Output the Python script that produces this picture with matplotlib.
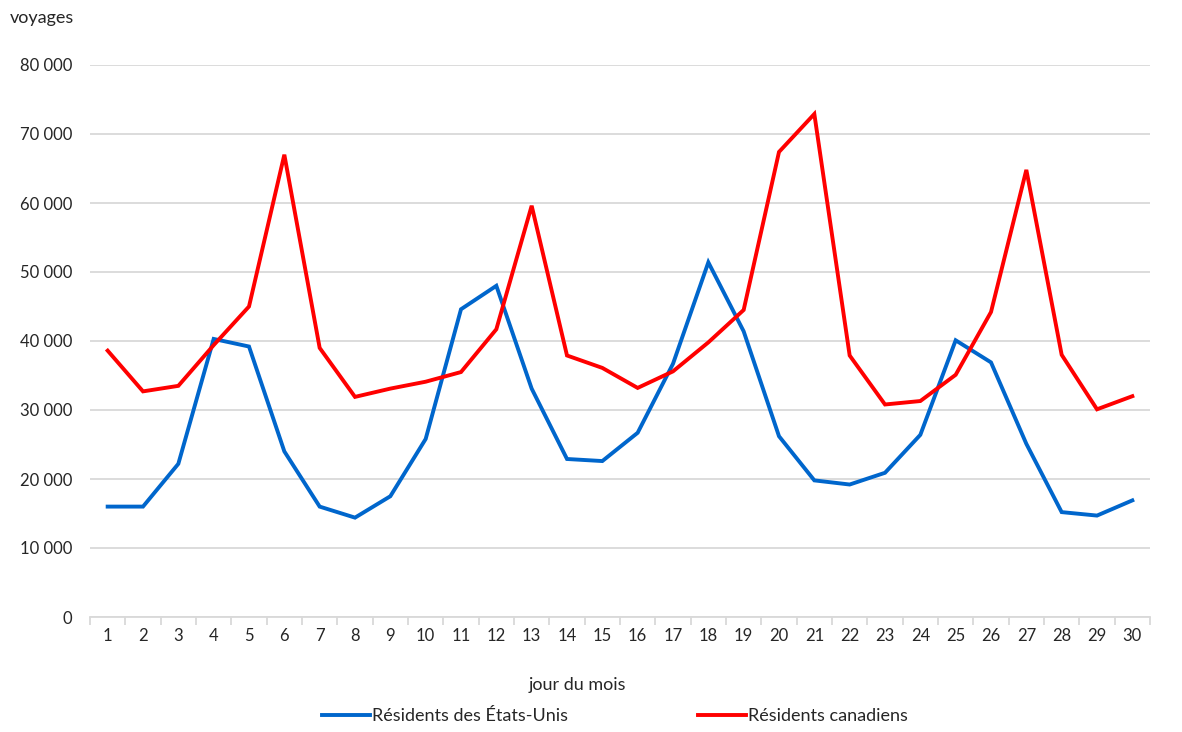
import matplotlib.pyplot as plt
from matplotlib.ticker import FuncFormatter, FixedLocator

plt.rcParams['font.family'] = ['Lato', 'DejaVu Sans']

days = list(range(1, 31))
us_residents = [16000, 16000, 22200, 40300, 39200, 24000, 16000, 14400, 17500, 25800,
                44600, 48000, 33100, 22900, 22600, 26700, 36700, 51400, 41400, 26200,
                19800, 19200, 20900, 26400, 40100, 36900, 25100, 15200, 14700, 16900]
cdn_residents = [38600, 32700, 33500, 39400, 45000, 67000, 39000, 31900, 33100, 34100,
                 35500, 41700, 59600, 37900, 36100, 33200, 35600, 39800, 44500, 67400,
                 72900, 37900, 30800, 31300, 35100, 44200, 64800, 38000, 30100, 32000]
labels = ['Résidents des États-Unis', 'Résidents canadiens']

fig = plt.figure(figsize=(11.82, 7.32), dpi=100)
ax = fig.add_axes([90 / 1182, 1 - 617 / 732, 1060 / 1182, 552 / 732])

ax.plot(days, us_residents, color='#0066CC', lw=2.8, label=labels[0], solid_joinstyle='miter')
ax.plot(days, cdn_residents, color='#FF0000', lw=2.8, label=labels[1], solid_joinstyle='miter')

ax.set_xlim(0.5, 30.5)
ax.set_ylim(0, 80000)
ax.set_yticks(range(0, 80001, 10000))
ax.yaxis.set_major_formatter(FuncFormatter(lambda v, p: f'{int(v):,}'.replace(',', ' ')))
ax.set_xticks(days)
ax.set_xticklabels([str(d) for d in days])
ax.xaxis.set_minor_locator(FixedLocator([d + 0.5 for d in range(0, 31)]))

ax.grid(axis='y', color='#d9d9d9', lw=1.3)
ax.set_axisbelow(True)
for s in ['top', 'right', 'left']:
    ax.spines[s].set_visible(False)
ax.spines['bottom'].set_color('#d9d9d9')
ax.spines['bottom'].set_linewidth(1.3)
ax.spines['bottom'].set_zorder(0.5)

ax.tick_params(axis='y', length=0, pad=13, labelsize=12, labelcolor='#262626')
ax.tick_params(axis='x', which='major', length=0, pad=8, labelsize=12, labelcolor='#262626')
ax.tick_params(axis='x', which='minor', length=6, color='#d9d9d9', width=1.3)

fig.text(10 / 1182, 1 - 18 / 732, 'voyages', fontsize=13, color='#262626', va='center')
fig.text(577 / 1182, 1 - 685 / 732, 'jour du mois', fontsize=13, color='#262626',
         ha='center', va='center')

fig.legend(loc='center', bbox_to_anchor=(615 / 1182, 1 - 716 / 732), ncol=2, frameon=False,
           fontsize=13, handlelength=2.65, handletextpad=0.1, columnspacing=7.2,
           labelcolor='#262626')

fig.savefig('out.png', dpi=100)
